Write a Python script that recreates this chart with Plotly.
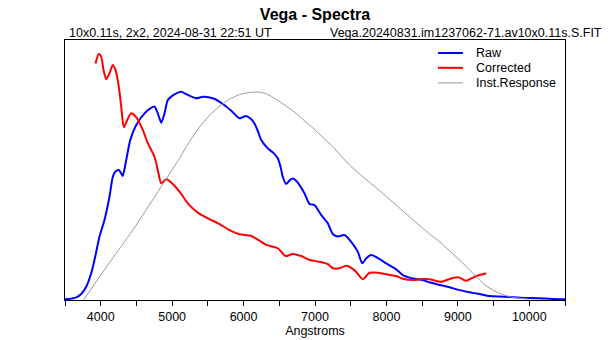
import plotly.graph_objects as go

# Wavelength grid (Angstroms) and relative flux for each spectrum
raw_wl = [3500, 3600, 3660, 3727, 3797, 3867, 3913, 3983, 4053, 4123, 4169, 4207,
          4253, 4290, 4309, 4357, 4413, 4497, 4613, 4700, 4753, 4799, 4847, 4893,
          4939, 5000, 5057, 5127, 5197, 5337, 5430, 5570, 5710, 5827, 5943, 6037,
          6100, 6153, 6200, 6247, 6339, 6420, 6479, 6520, 6549, 6597, 6650, 6689,
          6740, 6783, 6853, 6923, 6993, 7087, 7179, 7249, 7319, 7413, 7507, 7599,
          7661, 7717, 7787, 7903, 7997, 8137, 8229, 8369, 8509, 8603, 8743, 8883,
          9023, 9163, 9303, 9443, 9583, 9723, 9863, 10143, 10329, 10500]
raw_flux = [0.003, 0.006, 0.010, 0.023, 0.051, 0.103, 0.154, 0.244, 0.308, 0.397, 0.474, 0.494,
            0.500, 0.485, 0.477, 0.538, 0.615, 0.673, 0.718, 0.738, 0.744, 0.718, 0.682, 0.718,
            0.769, 0.785, 0.795, 0.801, 0.792, 0.776, 0.782, 0.776, 0.754, 0.728, 0.699, 0.708,
            0.697, 0.679, 0.650, 0.615, 0.583, 0.565, 0.545, 0.510, 0.474, 0.446, 0.462, 0.467,
            0.458, 0.442, 0.410, 0.369, 0.365, 0.327, 0.295, 0.254, 0.244, 0.250, 0.224, 0.186,
            0.141, 0.160, 0.173, 0.158, 0.141, 0.118, 0.096, 0.083, 0.077, 0.068, 0.058, 0.049,
            0.038, 0.030, 0.023, 0.015, 0.013, 0.012, 0.009, 0.007, 0.004, 0.003]

corr_wl = [3927, 3973, 4007, 4039, 4077, 4123, 4169, 4207, 4253, 4287, 4323, 4371,
           4427, 4497, 4589, 4659, 4753, 4799, 4847, 4917, 5009, 5127, 5219, 5359,
           5499, 5663, 5803, 5943, 6107, 6223, 6317, 6479, 6587, 6689, 6807, 6923,
           7063, 7179, 7249, 7343, 7437, 7553, 7669, 7763, 7879, 7997, 8137, 8229,
           8369, 8509, 8603, 8767, 8907, 9013, 9117, 9209, 9303, 9397]
corr_flux = [0.910, 0.946, 0.936, 0.885, 0.849, 0.872, 0.904, 0.885, 0.821, 0.744, 0.664, 0.692,
             0.718, 0.703, 0.654, 0.603, 0.551, 0.500, 0.449, 0.464, 0.446, 0.408, 0.372, 0.336,
             0.314, 0.292, 0.269, 0.253, 0.246, 0.228, 0.212, 0.199, 0.169, 0.177, 0.169, 0.154,
             0.147, 0.138, 0.122, 0.122, 0.132, 0.115, 0.080, 0.105, 0.105, 0.099, 0.092, 0.082,
             0.077, 0.081, 0.080, 0.070, 0.083, 0.087, 0.074, 0.086, 0.096, 0.103]

resp_wl = [3760, 4100, 4449, 4893, 5103, 5243, 5383, 5523, 5663, 5803, 5943, 6080,
           6206, 6330, 6455, 6600, 6735, 6850, 6969, 7100, 7249, 7483, 7949, 8323,
           8603, 8743, 9023, 9209, 9397, 9583, 9723, 9863, 10000]
resp_flux = [0.000, 0.135, 0.269, 0.455, 0.545, 0.609, 0.665, 0.710, 0.745, 0.772, 0.790, 0.798,
             0.800, 0.792, 0.772, 0.745, 0.718, 0.690, 0.662, 0.628, 0.590, 0.519, 0.410, 0.320,
             0.254, 0.224, 0.154, 0.103, 0.054, 0.026, 0.013, 0.007, 0.003]

series_names = ["Raw", "Corrected", "Inst.Response"]
series_colors = ["#0000ff", "#ff0000", "#999999"]
series_widths = [2, 2, 1]

x_ticks = [4000, 5000, 6000, 7000, 8000, 9000, 10000]
x_tick_labels = ["4000", "5000", "6000", "7000", "8000", "9000", "10000"]

FONT = "Liberation Sans, Arial, sans-serif"

fig = go.Figure()
for wl, flux, name, color, width in zip(
        [raw_wl, corr_wl, resp_wl], [raw_flux, corr_flux, resp_flux],
        series_names, series_colors, series_widths):
    fig.add_trace(go.Scatter(
        x=wl, y=flux, mode="lines", name=name,
        line=dict(color=color, width=width, shape="spline", smoothing=0.6),
        showlegend=False, hoverinfo="skip"))

# Hand-placed legend inside the upper-right corner of the plot
legend_y = [0.95, 0.893, 0.835]
shapes = []
annotations = []
for name, color, width, ly in zip(series_names, series_colors, series_widths, legend_y):
    shapes.append(dict(type="line", xref="paper", yref="paper",
                       x0=0.746, x1=0.796, y0=ly, y1=ly,
                       line=dict(color=color, width=width)))
    annotations.append(dict(text=name, xref="paper", yref="paper", x=0.818, y=ly,
                            xanchor="left", yanchor="middle", showarrow=False,
                            font=dict(family=FONT, size=12.5, color="black")))

# Exposure details above the frame
annotations.append(dict(text="10x0.11s, 2x2, 2024-08-31 22:51 UT", xref="paper", yref="paper",
                        x=0.004, y=1.027, xanchor="left", yanchor="middle", showarrow=False,
                        font=dict(family=FONT, size=12.5, color="black")))
annotations.append(dict(text="Vega.20240831.im1237062-71.av10x0.11s.S.FIT", xref="paper",
                        yref="paper", x=1.077, y=1.027, xanchor="right", yanchor="middle",
                        showarrow=False, font=dict(family=FONT, size=12.5, color="black")))

fig.update_layout(
    width=615, height=340,
    margin=dict(l=65, r=50, t=40, b=40, autoexpand=False),
    paper_bgcolor="white", plot_bgcolor="white",
    title=dict(text="<b>Vega - Spectra</b>", x=315 / 615, xanchor="center",
               y=1 - 14 / 340, yanchor="middle", yref="container",
               font=dict(family=FONT, size=16, color="black")),
    shapes=shapes, annotations=annotations,
    showlegend=False,
    xaxis=dict(range=[3500, 10500], tickvals=x_ticks, ticktext=x_tick_labels,
               automargin=False,
               ticks="outside", ticklen=5, tickcolor="black", tickwidth=1,
               minor=dict(dtick=500, tick0=3500, ticks="outside", ticklen=5,
                          tickcolor="black", tickwidth=1),
               showline=True, linecolor="black", linewidth=1, mirror=True,
               showgrid=False, zeroline=False,
               tickfont=dict(family=FONT, size=12.5, color="black"),
               title=dict(text="Angstroms", standoff=2,
                          font=dict(family=FONT, size=12.5, color="black"))),
    yaxis=dict(range=[0, 1], showticklabels=False, ticks="", automargin=False,
               showline=True, linecolor="black", linewidth=1, mirror=True,
               showgrid=False, zeroline=False),
)

fig.write_html("out.html")
